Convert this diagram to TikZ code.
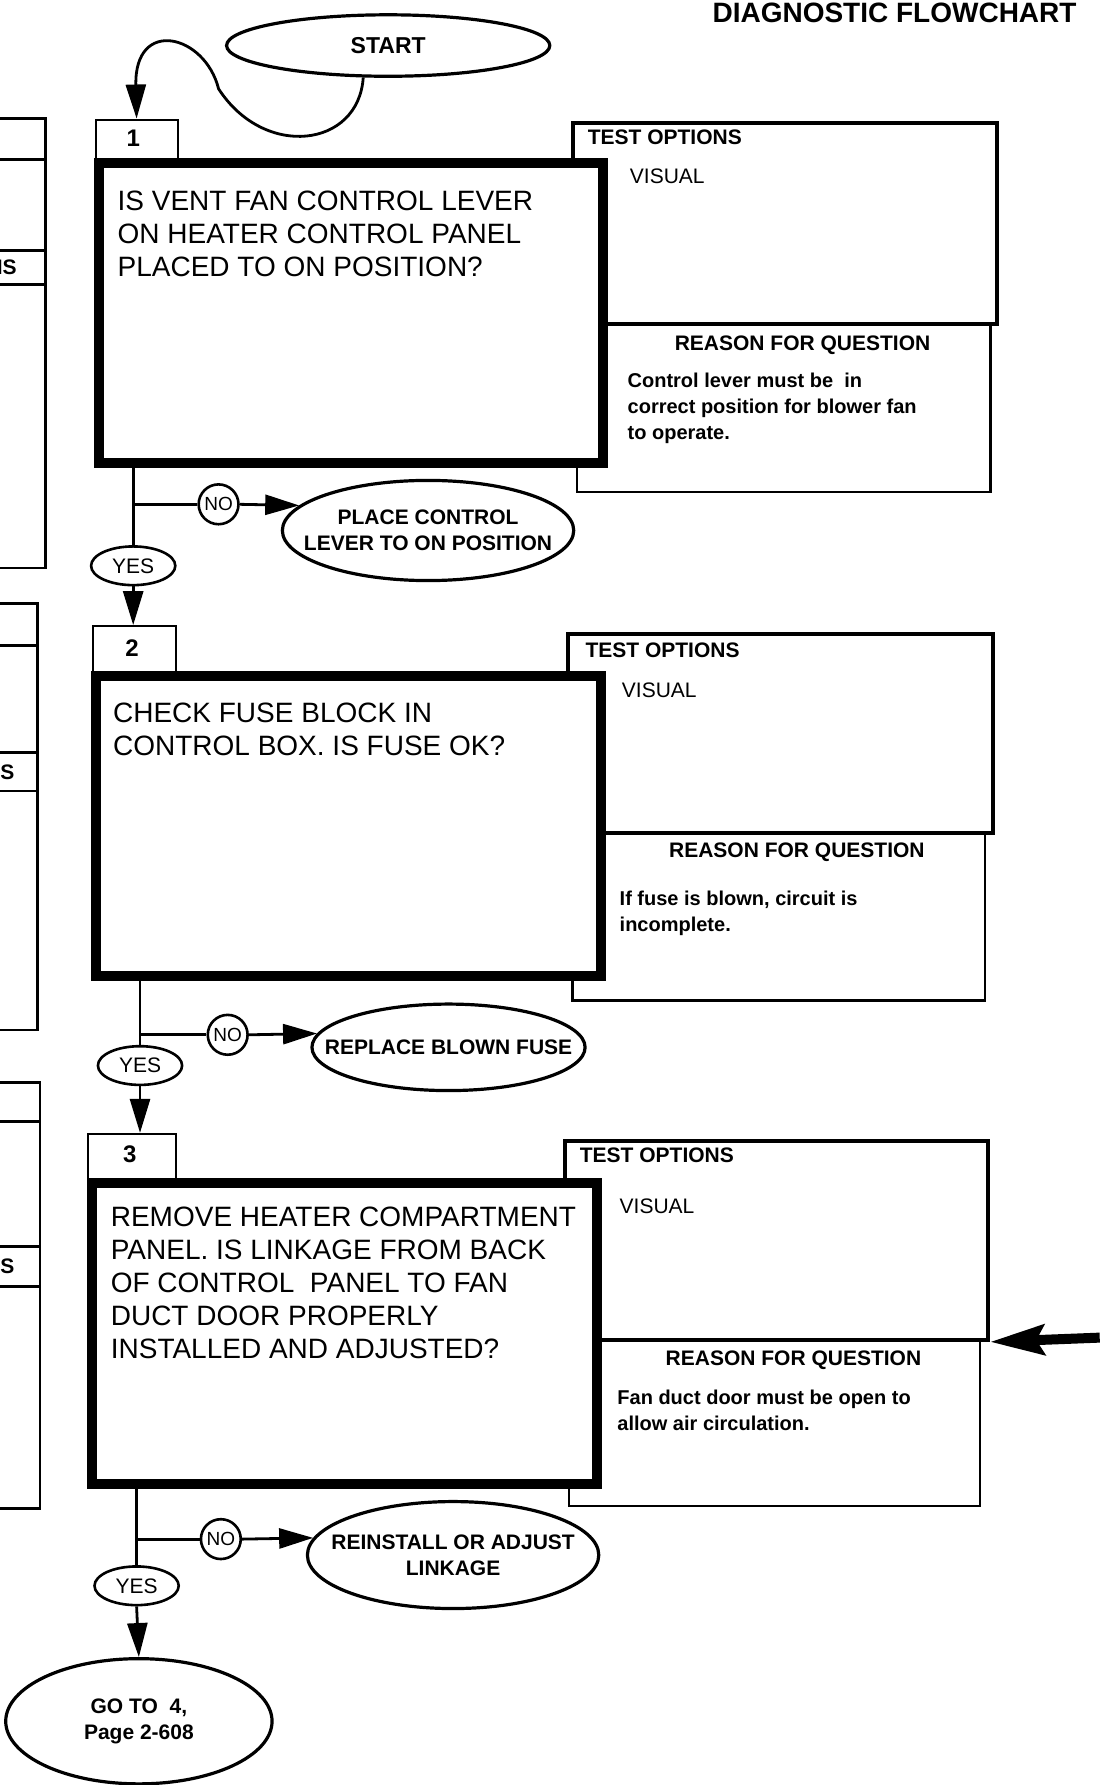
\documentclass[tikz,border=0pt]{standalone}
\usepackage{fontspec}
\setmainfont{Liberation Sans}
\usetikzlibrary{shapes.geometric,arrows.meta,fit,calc}

\tikzset{
  qbox/.style={draw, line width=5pt, fill=white, inner sep=0pt},
  tabbox/.style={draw, line width=1pt, fill=white, inner sep=0pt},
  optbox/.style={draw, line width=2pt, inner sep=0pt},
  whybox/.style={draw, line width=1.2pt, inner sep=0pt},
  pagebox/.style={line width=1.2pt},
  oval/.style={draw, ellipse, line width=1.6pt, inner ysep=0pt, inner xsep=-12pt, align=center, font=\fontsize{10.5}{13}\selectfont\bfseries},
  yesnode/.style={draw, ellipse, line width=1.3pt, inner sep=0pt, minimum width=1.48cm, minimum height=0.68cm, font=\fontsize{10.5}{12}\selectfont},
  nonode/.style={draw, circle, line width=1.3pt, inner sep=0pt, minimum size=0.7cm, font=\fontsize{9.5}{11}\selectfont},
  link/.style={line width=1.4pt},
  arr/.style={line width=1.4pt, -{Triangle[length=17pt,width=10pt]}},
  bigarr/.style={line width=5pt, -{Stealth[length=27pt,width=15pt,inset=4pt]}},
  numtext/.style={inner sep=0pt, font=\fontsize{12}{14}\selectfont\bfseries},
  qtext/.style={anchor=north west, inner sep=0pt, align=left, font=\fontsize{14}{16.5}\selectfont},
  hdtext/.style={inner sep=0pt, font=\fontsize{10.5}{12}\selectfont\bfseries},
  vis/.style={anchor=west, inner sep=0pt, font=\fontsize{10.5}{12}\selectfont},
  why/.style={anchor=north west, inner sep=0pt, align=left, font=\fontsize{10}{13}\selectfont\bfseries},
}

\begin{document}
\begin{tikzpicture}[x=0.02cm, y=-0.02cm]
  \useasboundingbox (0,0) rectangle (966,1568);
  % Title
  \node[hdtext, anchor=east, font=\fontsize{14}{16}\selectfont\bfseries] (title) at (946,11) {DIAGNOSTIC FLOWCHART};
  % Edges of the boxes on the facing page
  \draw[pagebox] (0,104) -| (40,499) -- (0,499);
  \draw[pagebox] (0,140) -- (40,140) (0,220) -- (40,220) (0,250) -- (40,250);
  \node[hdtext, anchor=east] (cut1) at (15,235) {IS};
  \draw[pagebox] (0,530) -| (33,905) -- (0,905);
  \draw[pagebox] (0,567) -- (33,567) (0,661) -- (33,661) (0,695) -- (33,695);
  \node[hdtext, anchor=east] (cut2) at (13,678) {S};
  \draw[pagebox] (0,951) -| (35,1325) -- (0,1325);
  \draw[pagebox] (0,985) -- (35,985) (0,1095) -- (35,1095) (0,1130) -- (35,1130);
  \node[hdtext, anchor=east] (cut3) at (13,1112) {S};

  % Step 1
  \node[optbox, fit={(503,108) (876,285)}] (opt1) {};
  \node[whybox, fit={(507,285) (870,432)}] (why1) {};
  \node[tabbox, fit={(84,105) (156,143)}] (tab1) {};
  \node[qbox, fit={(87,143) (530,407)}] (q1) {};
  \node[numtext] (num1) at (117,121) {1};
  \node[qtext] (q1t) at (103,167) {IS VENT FAN CONTROL LEVER\\ON HEATER CONTROL PANEL\\PLACED TO ON POSITION?};
  \node[hdtext, anchor=west] (opt1h) at (516,121) {TEST OPTIONS};
  \node[vis] (vis1) at (553,155) {VISUAL};
  \node[hdtext] (why1h) at (705,303) {REASON FOR QUESTION};
  \node[why] (why1t) at (551,327) {Control lever must be\ \ in\\correct position for blower fan\\to operate.};

  \node[oval, minimum width=5.68cm, minimum height=1.08cm, font=\fontsize{11.5}{13}\selectfont\bfseries] (start) at (341,40) {START};
  \node[yesnode] (yes1) at (117,497) {YES};
  \node[nonode] (no1) at (192,443) {NO};
  \node[oval, minimum width=5.12cm, minimum height=1.76cm] (place) at (376,466) {PLACE CONTROL\\LEVER TO ON POSITION};

  % Step 2
  \node[optbox, fit={(499,557) (872,732)}] (opt2) {};
  \node[whybox, fit={(503,732) (865,879)}] (why2) {};
  \node[tabbox, fit={(82,550) (155,594)}] (tab2) {};
  \node[qbox, fit={(84,594) (528,857)}] (q2) {};
  \node[numtext] (num2) at (116,569) {2};
  \node[qtext] (q2t) at (99,617) {CHECK FUSE BLOCK IN\\CONTROL BOX. IS FUSE OK?};
  \node[hdtext, anchor=west] (opt2h) at (514,571) {TEST OPTIONS};
  \node[vis] (vis2) at (546,606) {VISUAL};
  \node[hdtext] (why2h) at (700,749) {REASON FOR QUESTION};
  \node[why] (why2t) at (544,782) {If fuse is blown, circuit is\\incomplete.};

  \node[yesnode] (yes2) at (123,936) {YES};
  \node[nonode] (no2) at (200,909) {NO};
  \node[oval, inner xsep=-14.5pt, minimum width=4.8cm, minimum height=1.52cm] (fuse) at (394,920) {REPLACE BLOWN FUSE};

  % Step 3
  \node[optbox, fit={(496,1002) (868,1177)}] (opt3) {};
  \node[whybox, fit={(500,1177) (861,1323)}] (why3) {};
  \node[tabbox, fit={(77,996) (155,1039)}] (tab3) {};
  \node[qbox, fit={(81,1039) (524,1304)}] (q3) {};
  \node[numtext] (num3) at (114,1014) {3};
  \node[qtext] (q3t) at (97,1060) {REMOVE HEATER COMPARTMENT\\PANEL. IS LINKAGE FROM BACK\\OF CONTROL\ \ PANEL TO FAN\\DUCT DOOR PROPERLY\\INSTALLED AND ADJUSTED?};
  \node[hdtext, anchor=west] (opt3h) at (509,1015) {TEST OPTIONS};
  \node[vis] (vis3) at (544,1060) {VISUAL};
  \node[hdtext] (why3h) at (697,1195) {REASON FOR QUESTION};
  \node[why] (why3t) at (542,1221) {Fan duct door must be open to\\allow air circulation.};

  \node[yesnode] (yes3) at (120,1393) {YES};
  \node[nonode] (no3) at (194,1352) {NO};
  \node[oval, minimum width=5.12cm, minimum height=1.88cm] (relink) at (398,1366) {REINSTALL OR ADJUST\\LINKAGE};
  \node[oval, minimum width=4.68cm, minimum height=2.2cm] (goto) at (122,1512) {GO TO\ \ 4,\\Page 2-608};

  % Connectors
  \draw[arr] (start.232) .. controls (315,130) and (232,140) .. (192,78) .. controls (180,30) and (118,15) .. (tab1.north);
  \draw[link] (q1.south -| yes1.north) -- (yes1.north);
  \draw[link] (no1.west -| yes1.north) -- (no1.west);
  \draw[arr] (no1.east) -- (place.169);
  \draw[arr] (yes1.south) -- (yes1.south |- tab2.north);

  \draw[link] (q2.south -| yes2.north) -- (yes2.north);
  \draw[link] (no2.west -| yes2.north) -- (no2.west);
  \draw[arr] (no2.east) -- (fuse.174);
  \draw[arr] (yes2.south) -- (yes2.south |- tab3.north);

  \draw[link] (q3.south -| yes3.north) -- (yes3.north);
  \draw[link] (no3.west -| yes3.north) -- (no3.west);
  \draw[arr] (no3.east) -- (relink.173);
  \draw[arr] (yes3.south) -- (goto.north);

  \coordinate (rin) at (966,1175);
  \draw[bigarr] (rin) -- (opt3.south east);
\end{tikzpicture}
\end{document}
